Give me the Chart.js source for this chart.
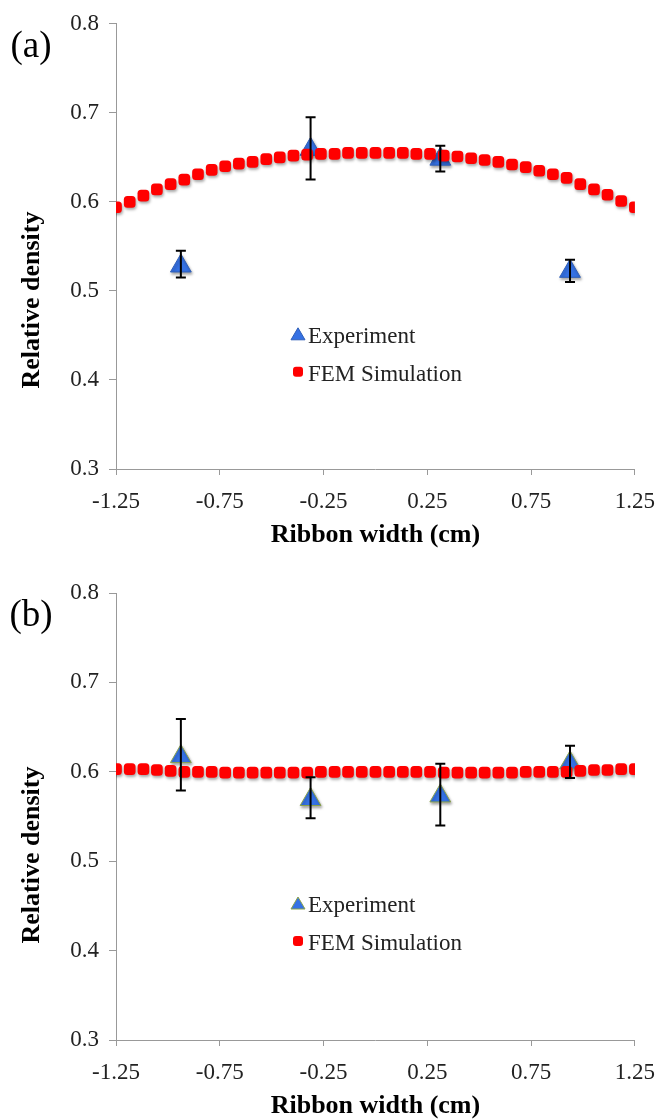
<!DOCTYPE html>
<html lang="en">
<head>
  <meta charset="UTF-8">
  <title>Relative density vs ribbon width</title>
  <style>
    body { margin: 0; background: #fff; }
    .box { position: relative; width: 668px; height: 560px; }
  </style>
</head>
<body>
  <div class="box"><canvas id="chartA"></canvas></div>
  <div class="box"><canvas id="chartB"></canvas></div>

  <script src="https://cdn.jsdelivr.net/npm/chart.js"></script>

  <script>
    // positions across the ribbon (cm)
    const xFem = [-1.25, -1.184, -1.118, -1.053, -0.987, -0.921, -0.855, -0.789, -0.724, -0.658,
                  -0.592, -0.526, -0.461, -0.395, -0.329, -0.263, -0.197, -0.132, -0.066, 0,
                  0.066, 0.132, 0.197, 0.263, 0.329, 0.395, 0.461, 0.526, 0.592, 0.658,
                  0.724, 0.789, 0.855, 0.921, 0.987, 1.053, 1.118, 1.184, 1.25]
    const xExp = [-0.9375, -0.3125, 0.3125, 0.9375]

    // (a)
    const femA = [0.594, 0.600, 0.607, 0.614, 0.620, 0.625, 0.631, 0.636, 0.640, 0.643,
                  0.645, 0.648, 0.650, 0.652, 0.653, 0.654, 0.654, 0.655, 0.655, 0.655,
                  0.655, 0.655, 0.654, 0.654, 0.652, 0.651, 0.649, 0.647, 0.645, 0.642,
                  0.639, 0.635, 0.631, 0.627, 0.620, 0.614, 0.608, 0.601, 0.594]
    const expA = [0.528, 0.659, 0.648, 0.522]
    const expAHi = [0.545, 0.695, 0.663, 0.535]
    const expALo = [0.515, 0.625, 0.634, 0.510]

    // (b)
    const femB = [0.603, 0.603, 0.603, 0.602, 0.601, 0.600, 0.600, 0.600, 0.599, 0.599,
                  0.599, 0.599, 0.599, 0.599, 0.599, 0.600, 0.600, 0.600, 0.600, 0.600,
                  0.600, 0.600, 0.600, 0.600, 0.599, 0.599, 0.599, 0.599, 0.599, 0.599,
                  0.600, 0.600, 0.600, 0.600, 0.601, 0.602, 0.602, 0.603, 0.603]
    const expB = [0.617, 0.569, 0.573, 0.610]
    const expBHi = [0.659, 0.594, 0.609, 0.629]
    const expBLo = [0.579, 0.548, 0.540, 0.593]

    const xTicks = [-1.25, -0.75, -0.25, 0.25, 0.75, 1.25]
    const yTicks = [0.3, 0.4, 0.5, 0.6, 0.7, 0.8]

    const serif = "'Liberation Serif', 'Times New Roman', serif"
    const blue = '#3571e4'
    const red = '#ff0000'

    // shadow under the markers, error bars, legend, titles, panel letter
    const extras = {
      id: 'extras',
      beforeDatasetDraw(chart, args) {
        const ctx = chart.ctx
        ctx.save()
        ctx.shadowColor = 'rgba(0,0,0,0.35)'
        ctx.shadowBlur = 3
        ctx.shadowOffsetX = 1
        ctx.shadowOffsetY = 2
      },
      afterDatasetDraw(chart, args) {
        chart.ctx.restore()
      },
      afterDraw(chart) {
        const ctx = chart.ctx
        const o = chart.options.plugins.extras
        const xs = chart.scales.x, ys = chart.scales.y
        const area = chart.chartArea

        // error bars
        ctx.save()
        ctx.strokeStyle = '#000'
        ctx.lineWidth = 2
        xExp.forEach((xv, i) => {
          const px = xs.getPixelForValue(xv)
          const top = ys.getPixelForValue(o.hi[i])
          const bot = ys.getPixelForValue(o.lo[i])
          ctx.beginPath()
          ctx.moveTo(px, top); ctx.lineTo(px, bot)
          ctx.moveTo(px - 5, top); ctx.lineTo(px + 5, top)
          ctx.moveTo(px - 5, bot); ctx.lineTo(px + 5, bot)
          ctx.stroke()
        })
        ctx.restore()

        // legend
        ctx.save()
        const lx = area.left + 182
        const ly1 = area.top + 310
        const ly2 = area.top + 348
        ctx.fillStyle = blue
        ctx.strokeStyle = o.triBorder
        ctx.lineWidth = 1
        ctx.beginPath()
        ctx.moveTo(lx, ly1 - 6)
        ctx.lineTo(lx + 7, ly1 + 6)
        ctx.lineTo(lx - 7, ly1 + 6)
        ctx.closePath()
        ctx.fill(); ctx.stroke()
        ctx.fillStyle = red
        ctx.beginPath()
        ctx.roundRect(lx - 5, ly2 - 5, 10, 10, 3)
        ctx.fill()
        ctx.fillStyle = '#222'
        ctx.font = '23px ' + serif
        ctx.textBaseline = 'middle'
        ctx.textAlign = 'left'
        ctx.fillText('Experiment', lx + 10, ly1 + 3)
        ctx.fillText('FEM Simulation', lx + 10, ly2 + 3)
        ctx.restore()

        // axis titles
        ctx.save()
        ctx.fillStyle = '#000'
        ctx.font = 'bold 26px ' + serif
        ctx.textAlign = 'center'
        ctx.textBaseline = 'middle'
        ctx.fillText('Ribbon width (cm)', (area.left + area.right) / 2, area.bottom + 66)
        ctx.translate(32, o.yTitleY)
        ctx.rotate(-Math.PI / 2)
        ctx.fillText('Relative density', 0, 0)
        ctx.restore()

        // panel letter
        ctx.save()
        ctx.fillStyle = '#000'
        ctx.font = '37px ' + serif
        ctx.textAlign = 'center'
        ctx.textBaseline = 'alphabetic'
        ctx.fillText(o.panel, 31, o.panelY)
        ctx.restore()
      }
    }

    let makeChart = (id, panel, fem, exp, hi, lo, padTop, triBorder, yTitleY, panelY) => {
      const ctx = document.getElementById(id)
      ctx.width = 668
      ctx.height = 560
      return new Chart(ctx, {
        type: 'scatter',
        data: {
          datasets: [{
            label: 'FEM Simulation',
            data: xFem.map((x, i) => ({ x: x, y: fem[i] })),
            pointStyle: 'rectRounded',
            pointRadius: 6.8,
            pointHoverRadius: 6.8,
            backgroundColor: red,
            borderColor: red,
            borderWidth: 0,
            showLine: false
          }, {
            label: 'Experiment',
            data: xExp.map((x, i) => ({ x: x, y: exp[i] })),
            pointStyle: 'triangle',
            pointRadius: 12,
            pointHoverRadius: 12,
            backgroundColor: blue,
            borderColor: triBorder,
            borderWidth: 1,
            showLine: false
          }]
        },
        options: {
          responsive: false,
          animation: false,
          events: [],
          layout: { padding: { top: padTop, right: 25, left: 0, bottom: 0 } },
          plugins: {
            legend: { display: false },
            tooltip: { enabled: false },
            extras: { panel: panel, hi: hi, lo: lo, triBorder: triBorder, yTitleY: yTitleY, panelY: panelY }
          },
          scales: {
            x: {
              type: 'linear',
              min: -1.25,
              max: 1.25,
              afterBuildTicks: (s) => { s.ticks = xTicks.map(v => ({ value: v })) },
              afterFit: (s) => { s.height = 560 - padTop - 447 },
              grid: { drawOnChartArea: false, drawTicks: true, tickLength: 6, color: '#999' },
              border: { color: '#999', width: 1 },
              ticks: {
                padding: 13,
                color: '#222',
                font: { family: serif, size: 23 },
                callback: (v) => v.toFixed(2),
                maxRotation: 0
              }
            },
            y: {
              type: 'linear',
              min: 0.3,
              max: 0.8,
              afterBuildTicks: (s) => { s.ticks = yTicks.map(v => ({ value: v })) },
              afterFit: (s) => { s.width = 116 },
              grid: { drawOnChartArea: false, drawTicks: true, tickLength: 7, color: '#999' },
              border: { color: '#999', width: 1 },
              ticks: {
                padding: 10,
                color: '#222',
                font: { family: serif, size: 23 },
                callback: (v) => v.toFixed(1)
              }
            }
          }
        },
        plugins: [extras]
      })
    }

    let desenhar = () => {
      makeChart('chartA', '(a)', femA, expA, expAHi, expALo, 22, '#2f5fb8', 300, 57)
      makeChart('chartB', '(b)', femB, expB, expBHi, expBLo, 33, '#8aa24a', 295, 66)
    }

    Promise.all([
      document.fonts.load("23px 'Liberation Serif'"),
      document.fonts.load("bold 26px 'Liberation Serif'")
    ]).then(desenhar).catch(desenhar)
  </script>
</body>
</html>
